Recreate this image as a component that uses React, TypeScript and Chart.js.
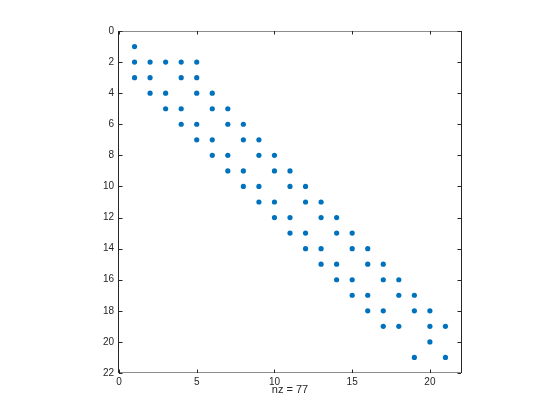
import React, { useEffect, useRef } from "react";
import { Chart, registerables } from "chart.js";

Chart.register(...registerables);

// Column (x) and row (y) indices of the non-zero entries
const rows: number[] = [
  1,
  2, 2, 2, 2, 2,
  3, 3, 3, 3,
  4, 4, 4, 4,
  5, 5, 5, 5,
  6, 6, 6, 6,
  7, 7, 7, 7,
  8, 8, 8, 8,
  9, 9, 9, 9,
  10, 10, 10, 10,
  11, 11, 11, 11,
  12, 12, 12, 12,
  13, 13, 13, 13,
  14, 14, 14, 14,
  15, 15, 15, 15,
  16, 16, 16, 16,
  17, 17, 17, 17,
  18, 18, 18, 18,
  19, 19, 19, 19,
  20,
  21, 21,
];
const cols: number[] = [
  1,
  1, 2, 3, 4, 5,
  1, 2, 4, 5,
  2, 3, 5, 6,
  3, 4, 6, 7,
  4, 5, 7, 8,
  5, 6, 8, 9,
  6, 7, 9, 10,
  7, 8, 10, 11,
  8, 9, 11, 12,
  9, 10, 12, 13,
  10, 11, 13, 14,
  11, 12, 14, 15,
  12, 13, 15, 16,
  13, 14, 16, 17,
  14, 15, 17, 18,
  15, 16, 18, 19,
  16, 17, 19, 20,
  17, 18, 20, 21,
  20,
  19, 21,
];
const xTicks: number[] = [0, 5, 10, 15, 20];
const yTicks: number[] = [0, 2, 4, 6, 8, 10, 12, 14, 16, 18, 20, 22];
const axisMax = 22;
const xLabel = "nz = " + rows.length;

export default function App() {
  const ref = useRef<HTMLCanvasElement>(null);
  useEffect(() => {
    if (!ref.current) return;
    const boxPlugin = {
      id: "matlabBox" + Math.random().toString(36).slice(2),
      afterDraw(chart: any) {
        const { ctx, chartArea } = chart;
        const { left, right, top, bottom } = chartArea;
        const xs = chart.scales.x;
        const ys = chart.scales.y;
        const tl = 3.5;
        ctx.save();
        ctx.lineWidth = 1;
        ctx.strokeStyle = "#8c8c8c";
        ctx.beginPath();
        ctx.moveTo(left, top + 0.5);
        ctx.lineTo(right, top + 0.5);
        ctx.moveTo(left, bottom - 0.5);
        ctx.lineTo(right, bottom - 0.5);
        ctx.stroke();
        ctx.strokeStyle = "#262626";
        ctx.beginPath();
        ctx.moveTo(left - 0.5, top);
        ctx.lineTo(left - 0.5, bottom);
        ctx.moveTo(right + 0.5, top);
        ctx.lineTo(right + 0.5, bottom);
        ctx.stroke();
        ctx.beginPath();
        xTicks.forEach((v) => {
          const px = Math.round(xs.getPixelForValue(v)) + 0.5;
          ctx.moveTo(px, bottom);
          ctx.lineTo(px, bottom - tl);
          ctx.moveTo(px, top);
          ctx.lineTo(px, top + tl);
        });
        yTicks.forEach((v) => {
          const py = Math.round(ys.getPixelForValue(v)) + 0.5;
          ctx.moveTo(left, py);
          ctx.lineTo(left + tl, py);
          ctx.moveTo(right, py);
          ctx.lineTo(right - tl, py);
        });
        ctx.stroke();
        ctx.restore();
      },
    };
    const data = cols.map((c, i) => ({ x: c, y: rows[i] }));
    const font = { family: "'Liberation Sans', Arial, Helvetica, sans-serif", size: 10 };
    const chart = new Chart(ref.current, {
      type: "scatter",
      data: {
        datasets: [
          {
            data,
            backgroundColor: "#0072BD",
            borderWidth: 0,
            pointRadius: 2.6,
            pointHoverRadius: 2.6,
          },
        ],
      },
      options: {
        responsive: false,
        animation: false,
        layout: { padding: { top: 31, right: 99, left: 0, bottom: 0 } },
        plugins: { legend: { display: false }, tooltip: { enabled: false } },
        scales: {
          x: {
            type: "linear",
            min: 0,
            max: axisMax,
            grid: { display: false, drawTicks: false },
            border: { display: false },
            afterBuildTicks: (s: any) => {
              s.ticks = xTicks.map((v) => ({ value: v }));
            },
            afterFit: (s: any) => {
              s.height = 47;
            },
            ticks: { color: "#262626", font, padding: 3, maxRotation: 0 },
            title: {
              display: true,
              text: xLabel,
              color: "#262626",
              font: { family: font.family, size: 11 },
              padding: { top: 0, bottom: 23 },
            },
          },
          y: {
            type: "linear",
            reverse: true,
            min: 0,
            max: axisMax,
            grid: { display: false, drawTicks: false },
            border: { display: false },
            afterBuildTicks: (s: any) => {
              s.ticks = yTicks.map((v) => ({ value: v }));
            },
            afterFit: (s: any) => {
              s.width = 119;
            },
            ticks: { color: "#262626", font, padding: 5 },
          },
        },
      },
      plugins: [boxPlugin],
    });
    return () => chart.destroy();
  }, []);
  return (
    <div style={{ position: "fixed", left: 0, top: 0, width: 560, height: 420, background: "#fff" }}>
      <canvas ref={ref} width={560} height={420} style={{ display: "block" }} />
    </div>
  );
}
